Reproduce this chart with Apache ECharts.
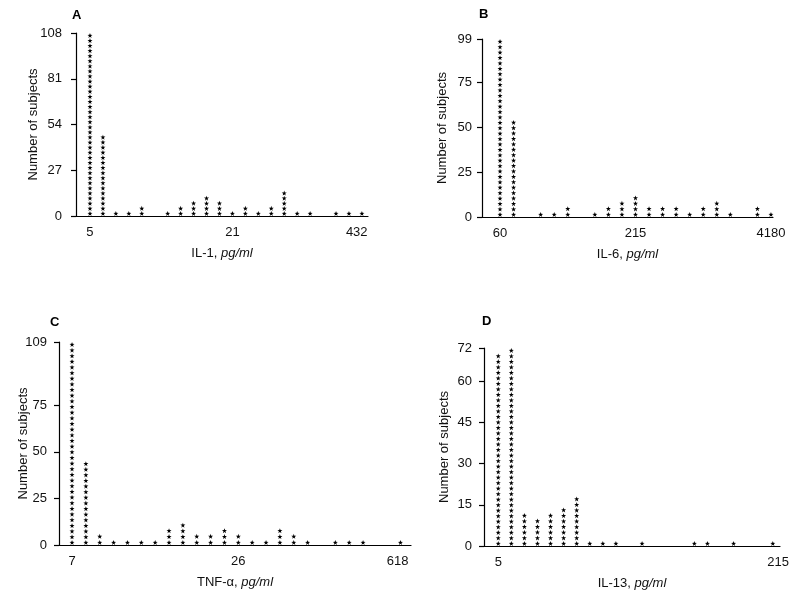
<!DOCTYPE html>
<html>
<head>
<meta charset="utf-8">
<script src="https://cdn.jsdelivr.net/npm/echarts@6/dist/echarts.min.js"></script>
<style>
html,body{margin:0;padding:0;background:#fff;}
#chart{width:800px;height:600px;}
</style>
</head>
<body>
<div id="chart"></div>
<script>
// ---------- DATA ----------
// Panel A: IL-1
const slotsA = [0,1,2,3,4,6,7,8,9,10,11,12,13,14,15,16,17,19,20,21];
const valuesA = [108,48,3,3,6,3,6,9,12,9,3,6,3,6,15,3,3,3,3,3];
const yTicksA = [0,27,54,81,108];
const xTickPosA = [0,11,20.6];
const xTickTextA = ['5','21','432'];
const unitA = 3;

// Panel B: IL-6
const slotsB = [0,1,3,4,5,7,8,9,10,11,12,13,14,15,16,17,19,20];
const valuesB = [99,54,3,3,6,3,6,9,12,6,6,6,3,6,9,3,6,3];
const yTicksB = [0,25,50,75,99];
const xTickPosB = [0,10,20];
const xTickTextB = ['60','215','4180'];
const unitB = 3;

// Panel C: TNF-alpha
const slotsC = [0,1,2,3,4,5,6,7,8,9,10,11,12,13,14,15,16,17,19,20,21,23.7];
const valuesC = [109,45,6,3,3,3,3,9,12,6,6,9,6,3,3,9,6,3,3,3,3,3];
const yTicksC = [0,25,50,75,109];
const xTickPosC = [0,12,23.5];
const xTickTextC = ['7','26','618'];
const unitC = 3;

// Panel D: IL-13
const slotsD = [0,1,2,3,4,5,6,7,8,9,11,15,16,18,21];
const valuesD = [70,72,12,10,12,14,18,2,2,2,2,2,2,2,2];
const yTicksD = [0,15,30,45,60,72];
const xTickPosD = [0,21.4];
const xTickTextD = ['5','215'];
const unitD = 2;

const panelLetters = ['A','B','C','D'];
const xNames = ['IL-1, {i|pg/ml}','IL-6, {i|pg/ml}','TNF-\u03B1, {i|pg/ml}','IL-13, {i|pg/ml}'];
const yName = 'Number of subjects';

// ---------- LAYOUT / STYLE ----------
const FONT = '"Liberation Sans", Arial, Helvetica, sans-serif';
const STAR = 'path://M50 0 L61.8 33.8 L97.6 34.5 L69 56.2 L79.4 90.5 L50 70 L20.6 90.5 L31 56.2 L2.4 34.5 L38.2 33.8 Z';

const panels = [
  {slots:slotsA, values:valuesA, yTicks:yTicksA, xPos:xTickPosA, xText:xTickTextA, unit:unitA,
   grid:{left:76, top:33, width:292, height:183}, xMin:-1.08, xMax:21.47, yGap:36, lblM:14, letter:[77,16]},
  {slots:slotsB, values:valuesB, yTicks:yTicksB, xPos:xTickPosB, xText:xTickTextB, unit:unitB,
   grid:{left:482, top:39, width:291, height:178}, xMin:-1.33, xMax:20.15, yGap:33, lblM:10, letter:[484,15]},
  {slots:slotsC, values:valuesC, yTicks:yTicksC, xPos:xTickPosC, xText:xTickTextC, unit:unitC,
   grid:{left:59, top:342, width:352, height:203}, xMin:-0.94, xMax:24.46, yGap:29, lblM:12, letter:[55,323]},
  {slots:slotsD, values:valuesD, yTicks:yTicksD, xPos:xTickPosD, xText:xTickTextD, unit:unitD,
   grid:{left:484, top:348, width:296, height:198}, xMin:-1.09, xMax:21.55, yGap:33, lblM:12, letter:[487,322]}
];

const grids = [], xAxes = [], yAxes = [], series = [], graphics = [];
panels.forEach((p, i) => {
  grids.push(Object.assign({containLabel:false}, p.grid));
  const xPos = p.xPos, xText = p.xText;
  xAxes.push({
    type:'value', gridIndex:i, min:p.xMin, max:p.xMax,
    axisLine:{show:true, onZero:false, lineStyle:{color:'#000', width:1.2}},
    axisTick:{show:false},
    splitLine:{show:false},
    axisLabel:{
      show:true, customValues:xPos, margin:10, color:'#111', fontSize:13, fontFamily:FONT,
      formatter:function(v){ const k = xPos.findIndex(t => Math.abs(t - v) < 1e-6); return k >= 0 ? xText[k] : ''; }
    },
    name:xNames[i], nameLocation:'middle', nameGap:31,
    nameTextStyle:{color:'#111', fontSize:13, fontFamily:FONT, rich:{i:{fontStyle:'italic', fontSize:13, fontFamily:FONT, color:'#111'}}}
  });
  const maxY = p.yTicks[p.yTicks.length - 1];
  yAxes.push({
    type:'value', gridIndex:i, min:0, max:maxY,
    axisLine:{show:true, onZero:false, lineStyle:{color:'#000', width:1.2}},
    axisTick:{show:true, customValues:p.yTicks, length:5, inside:false, lineStyle:{color:'#000', width:1.2}},
    splitLine:{show:false},
    axisLabel:{show:true, customValues:p.yTicks, margin:p.lblM, color:'#111', fontSize:13, fontFamily:FONT},
    name:yName, nameLocation:'middle', nameGap:p.yGap, nameRotate:90, nameMoveOverlap:false,
    nameTextStyle:{color:'#111', fontSize:13, fontFamily:FONT}
  });
  const unit = p.unit;
  series.push({
    type:'pictorialBar', xAxisIndex:i, yAxisIndex:i,
    symbol:STAR, symbolSize:[5,5], symbolClip:false,
    itemStyle:{color:'#000'},
    barWidth:6,
    silent:true, animation:false,
    data:p.slots.map((s, k) => ({
      value:[s, p.values[k]],
      symbolBoundingData:p.values[k],
      symbolRepeat:Math.max(1, Math.round(p.values[k] / unit))
    }))
  });
  graphics.push({
    type:'text', left:p.letter[0] - 5, top:p.letter[1] - 7,
    style:{text:panelLetters[i], font:'bold 13px ' + FONT, fill:'#000'}
  });
});

const chart = echarts.init(document.getElementById('chart'), null, {renderer:'canvas'});
chart.setOption({
  backgroundColor:'#fff',
  animation:false,
  grid:grids, xAxis:xAxes, yAxis:yAxes, series:series, graphic:graphics
});
</script>
</body>
</html>
